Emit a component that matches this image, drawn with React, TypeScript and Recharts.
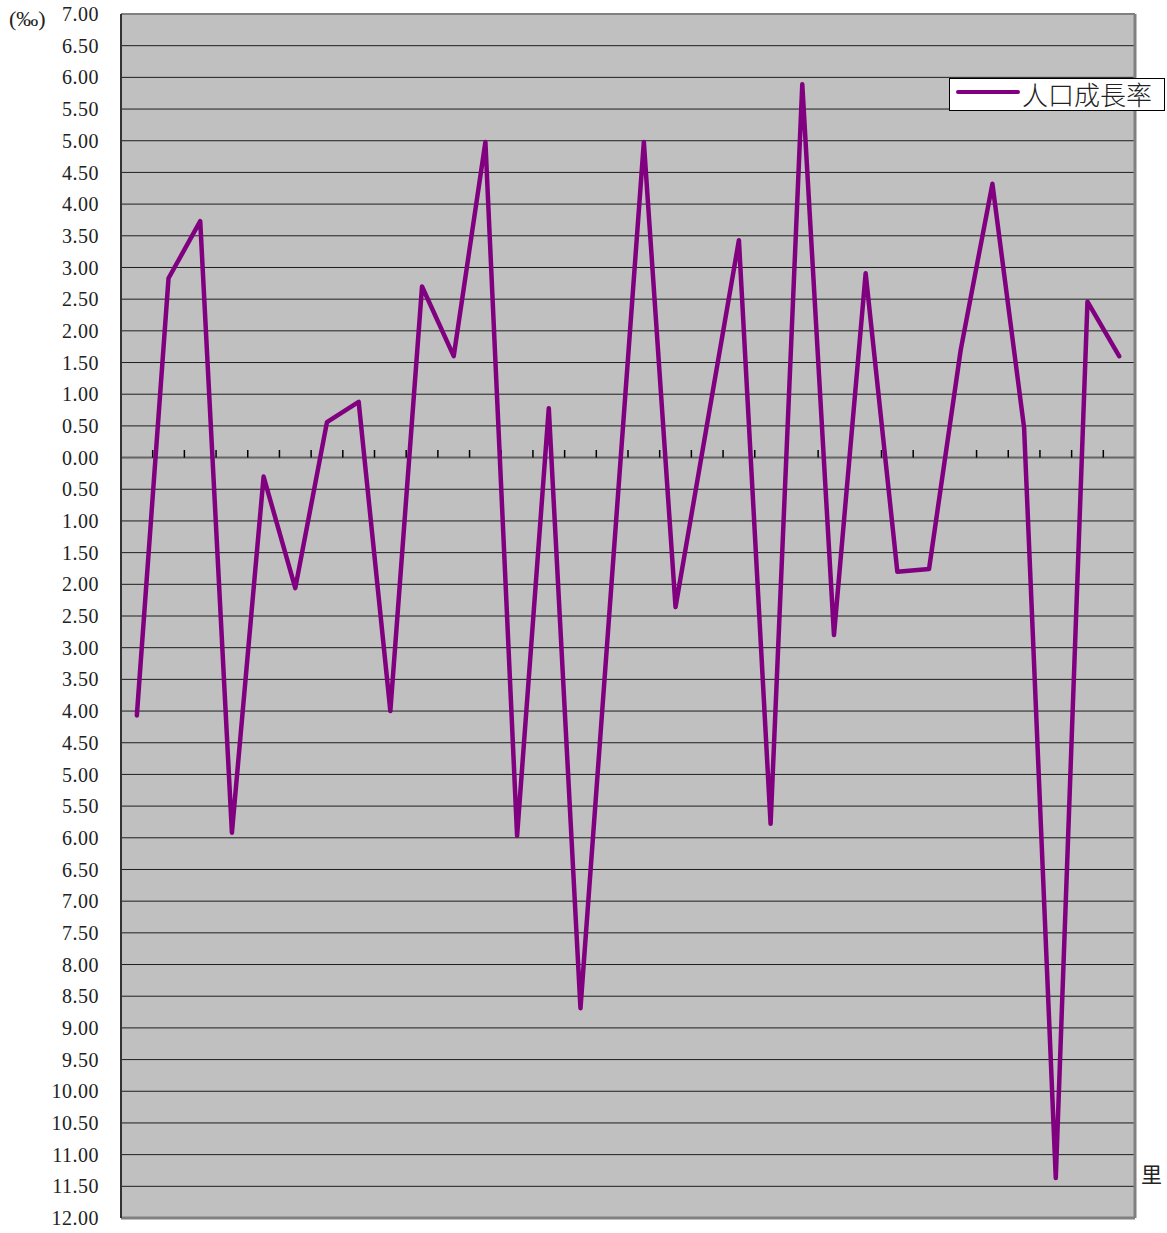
import React from 'react';
import {
  LineChart,
  Line,
  XAxis,
  YAxis,
  CartesianGrid,
  ReferenceLine,
} from 'recharts';

// 32 里 in order, no labels printed on the axis
const villages = [
  1, 2, 3, 4, 5, 6, 7, 8, 9, 10, 11, 12, 13, 14, 15, 16,
  17, 18, 19, 20, 21, 22, 23, 24, 25, 26, 27, 28, 29, 30, 31, 32,
];

// 人口成長率 (‰)
const growthRates = [
  -4.07, 2.83, 3.73, -5.92, -0.3, -2.06, 0.56, 0.88, -4.0, 2.7, 1.6, 4.98,
  -5.97, 0.78, -8.69, -1.85, 4.98, -2.36, 0.54, 3.43, -5.78, 5.89, -2.8, 2.91,
  -1.8, -1.76, 1.7, 4.32, 0.47, -11.37, 2.46, 1.6,
];

const yTicks = [
  -12, -11.5, -11, -10.5, -10, -9.5, -9, -8.5, -8, -7.5, -7, -6.5, -6, -5.5,
  -5, -4.5, -4, -3.5, -3, -2.5, -2, -1.5, -1, -0.5, 0, 0.5, 1, 1.5, 2, 2.5, 3,
  3.5, 4, 4.5, 5, 5.5, 6, 6.5, 7,
];

// category boundaries carrying the little tick marks on the zero line
const boundaries = [
  1, 2, 3, 4, 5, 6, 7, 8, 9, 10, 11, 12, 13, 14, 15, 16,
  17, 18, 19, 20, 21, 22, 23, 24, 25, 26, 27, 28, 29, 30, 31,
];

const data = villages.map((v, i) => ({ pos: i + 0.5, name: v, rate: growthRates[i] }));

const serif = '"Liberation Serif", "DejaVu Serif", serif';
const cjk = '"Noto Sans CJK TC", "Noto Sans CJK SC", sans-serif';

function LegendBox() {
  return (
    <div
      style={{
        position: 'absolute',
        left: 949,
        top: 78,
        width: 214,
        height: 31,
        background: '#fff',
        border: '1px solid #000',
        display: 'flex',
        alignItems: 'center',
      }}
    >
      <svg width={72} height={31}>
        <line x1={8} y1={13} x2={68} y2={13} stroke="#800080" strokeWidth={4} strokeLinecap="round" />
      </svg>
      <span style={{ fontFamily: cjk, fontSize: 26, color: '#222', marginTop: -2, fontWeight: 300 }}>
        人口成長率
      </span>
    </div>
  );
}

export default function App() {
  return (
    <div style={{ position: 'absolute', left: 0, top: 0, width: 1167, height: 1233, background: '#fff' }}>
      <LineChart
        width={1167}
        height={1233}
        data={data}
        margin={{ top: 14, right: 32, left: 0, bottom: 15 }}
      >
        <CartesianGrid vertical={false} fill="#C0C0C0" stroke="#000" strokeOpacity={0.85} />
        <XAxis dataKey="pos" type="number" domain={[0, 32]} hide />
        <YAxis
          width={121}
          domain={[-12, 7]}
          ticks={yTicks}
          interval={0}
          tickLine={false}
          tickSize={0}
          tickMargin={22}
          axisLine={{ stroke: '#333', strokeWidth: 2 }}
          tick={{ fontFamily: serif, fontSize: 20, fill: '#222', letterSpacing: 0.5 }}
          tickFormatter={(v: number) => Math.abs(v).toFixed(2)}
        />
        <ReferenceLine y={7} stroke="#808080" strokeWidth={2} />
        <ReferenceLine y={-12} stroke="#808080" strokeWidth={3} />
        <ReferenceLine x={32} stroke="#808080" strokeWidth={3} />
        <ReferenceLine y={0} stroke="#666" strokeWidth={2} />
        {boundaries.map((b) => (
          <ReferenceLine
            key={b}
            segment={[
              { x: b, y: 0 },
              { x: b, y: 0.12 },
            ]}
            stroke="#000"
            strokeWidth={1.5}
          />
        ))}
        <Line
          type="linear"
          dataKey="rate"
          stroke="#800080"
          strokeWidth={4.5}
          strokeLinejoin="round"
          strokeLinecap="round"
          dot={false}
          activeDot={false}
          isAnimationActive={false}
        />
      </LineChart>
      <LegendBox />
      <div style={{ position: 'absolute', left: 9, top: 6, fontFamily: serif, fontSize: 22, color: '#222' }}>
        (‰)
      </div>
      <div style={{ position: 'absolute', left: 1141, top: 1158, fontFamily: cjk, fontSize: 21, color: '#222' }}>
        里
      </div>
    </div>
  );
}
